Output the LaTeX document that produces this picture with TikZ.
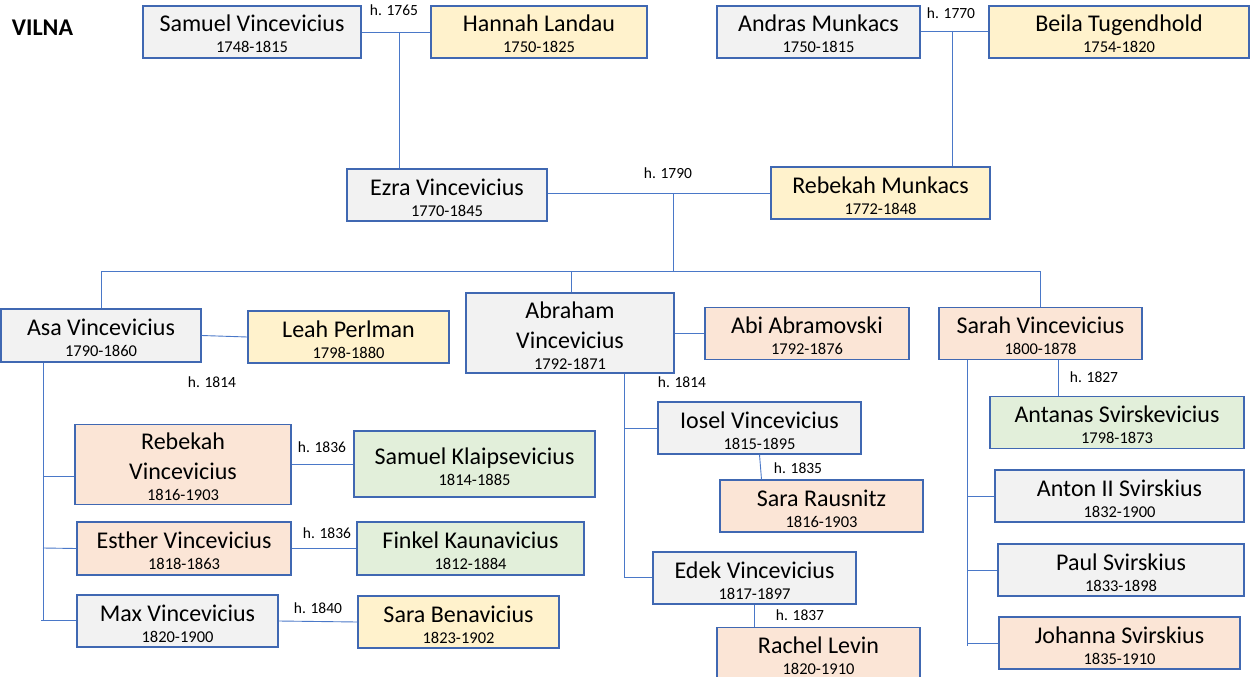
\documentclass[tikz,border=0pt]{standalone}
\usepackage{fontspec}
\setmainfont{Carlito}
\definecolor{bord}{HTML}{4068B2}
\definecolor{connc}{HTML}{4A78C8}
\definecolor{fgrey}{HTML}{F2F2F2}
\definecolor{fyel}{HTML}{FFF2CC}
\definecolor{fpeach}{HTML}{FBE5D6}
\definecolor{fgreen}{HTML}{E2EFDA}
\newcommand{\dtf}{\fontsize{16.5}{21}\selectfont}
\newcommand{\pp}[2]{\rule{0pt}{25pt}#1\\{\dtf #2\rule[-4pt]{0pt}{4pt}}}
\newcommand{\ppp}[3]{\rule{0pt}{25pt}#1\\[9pt]#2\\{\dtf #3\rule[-4pt]{0pt}{4pt}}}
\tikzset{
  person/.style={draw=bord, line width=1.3pt, inner sep=0pt, align=center,
    font=\fontsize{24}{21}\selectfont, minimum height=52pt},
  pgrey/.style={person, fill=fgrey},
  pyel/.style={person, fill=fyel},
  ppeach/.style={person, fill=fpeach},
  pgreen/.style={person, fill=fgreen},
  link/.style={draw=connc, line width=0.9pt},
  lbl/.style={font=\fontsize{15.5}{18}\selectfont, inner sep=0pt}
}
\begin{document}
\begin{tikzpicture}[x=1pt, y=-1pt]
\useasboundingbox (0,0) rectangle (1253,677);
\node[font=\fontsize{24}{28}\selectfont\bfseries, inner sep=0pt] (vilna) at (42.5,28) {VILNA};
% generation 1
\node[pgrey, minimum width=218pt] (samuel) at (252,32) {\pp{Samuel Vincevicius}{1748-1815}};
\node[pyel, minimum width=216pt] (hannah) at (539,32) {\pp{Hannah Landau}{1750-1825}};
\node[pgrey, minimum width=203pt] (andras) at (818.5,32) {\pp{Andras Munkacs}{1750-1815}};
\node[pyel, minimum width=260pt] (beila) at (1119,32) {\pp{Beila Tugendhold}{1754-1820}};
% generation 2
\node[pgrey, minimum width=200pt] (ezra) at (447,195) {\pp{Ezra Vincevicius}{1770-1845}};
\node[pyel, minimum width=219pt] (rebm) at (880.5,193) {\pp{Rebekah Munkacs}{1772-1848}};
% generation 3
\node[pgrey, minimum width=200pt, minimum height=53pt] (asa) at (101,335.5) {\pp{Asa Vincevicius}{1790-1860}};
\node[pyel, minimum width=201pt] (leah) at (348.5,337) {\pp{Leah Perlman}{1798-1880}};
\node[pgrey, minimum width=208pt, minimum height=78pt] (abraham) at (570,333) {\ppp{Abraham}{Vincevicius}{1792-1871}};
\node[ppeach, minimum width=204pt] (abi) at (807,333.5) {\pp{Abi Abramovski}{1792-1876}};
\node[ppeach, minimum width=203pt] (sarah) at (1040.5,333.5) {\pp{Sarah Vincevicius}{1800-1878}};
% generation 4 - Asa
\node[ppeach, minimum width=216pt, minimum height=75pt] (rebv) at (183,464.5) {\ppp{Rebekah}{Vincevicius}{1816-1903}};
\node[pgreen, minimum width=241pt, minimum height=66pt] (samk) at (474.5,464) {\pp{Samuel Klaipsevicius}{1814-1885}};
\node[ppeach, minimum width=214pt, minimum height=53pt] (esther) at (184,548.5) {\pp{Esther Vincevicius}{1818-1863}};
\node[pgreen, minimum width=227pt, minimum height=53pt] (finkel) at (470.5,548.5) {\pp{Finkel Kaunavicius}{1812-1884}};
\node[pgrey, minimum width=201pt] (max) at (177.5,621) {\pp{Max Vincevicius}{1820-1900}};
\node[pyel, minimum width=201pt] (sarab) at (458.5,622) {\pp{Sara Benavicius}{1823-1902}};
% generation 4 - Abraham
\node[pgrey, minimum width=203pt] (iosel) at (759.5,428) {\pp{Iosel Vincevicius}{1815-1895}};
\node[ppeach, minimum width=203pt] (sarar) at (821.5,506) {\pp{Sara Rausnitz}{1816-1903}};
\node[pgrey, minimum width=203pt] (edek) at (754.5,578) {\pp{Edek Vincevicius}{1817-1897}};
\node[ppeach, minimum width=203pt] (rachel) at (818.5,653.5) {\pp{Rachel Levin}{1820-1910}};
% generation 4 - Sarah
\node[pgreen, minimum width=254pt] (antanas) at (1117,422.5) {\pp{Antanas Svirskevicius}{1798-1873}};
\node[pgrey, minimum width=249pt] (anton) at (1119.5,496) {\pp{Anton II Svirskius}{1832-1900}};
\node[pgrey, minimum width=246pt] (paul) at (1121,570) {\pp{Paul Svirskius}{1833-1898}};
\node[ppeach, minimum width=241pt] (johanna) at (1119.5,643) {\pp{Johanna Svirskius}{1835-1910}};
% marriage labels
\node[lbl] (h1765) at (394,10) {h. 1765};
\node[lbl] (h1770) at (951,13) {h. 1770};
\node[lbl] (h1790) at (668,173) {h. 1790};
\node[lbl] (h1814a) at (212,382) {h. 1814};
\node[lbl] (h1814b) at (682,382) {h. 1814};
\node[lbl] (h1836a) at (322,447) {h. 1836};
\node[lbl] (h1836b) at (327,533) {h. 1836};
\node[lbl] (h1840) at (318,608) {h. 1840};
\node[lbl] (h1835) at (798,468) {h. 1835};
\node[lbl] (h1837) at (800,615) {h. 1837};
\node[lbl] (h1827) at (1094,377) {h. 1827};
% junction coordinates
\coordinate (m1) at (399,32);
\coordinate (m2) at (952,31);
\coordinate (m3) at (673,193);
\coordinate (bar) at (673,271);
\coordinate (barL) at (101,271);
\coordinate (barM) at (571,271);
\coordinate (barR) at (1040,271);
\coordinate (asaEnd) at (43,620);
\coordinate (abrEnd) at (624,577);
\coordinate (sarEnd) at (967,646);
% connectors gen 1
\draw[link] (samuel.east) -- (hannah.west);
\draw[link] (m1) -- (m1 |- ezra.north);
\draw[link] (andras.east |- m2) -- (beila.west |- m2);
\draw[link] (m2) -- (m2 |- rebm.north);
% gen 2
\draw[link] (ezra.east |- m3) -- (rebm.west |- m3);
\draw[link] (m3) -- (bar);
\draw[link] (barL) -- (barR);
\draw[link] (barL) -- (barL |- asa.north);
\draw[link] (barM) -- (barM |- abraham.north);
\draw[link] (barR) -- (barR |- sarah.north);
% gen 3 marriages
\draw[link] (asa.east) -- (leah.west);
\draw[link] (abraham.east |- abi.west) -- (abi.west);
\draw[link] ([xshift=18pt]sarah.south) -- ([xshift=18pt]sarah.south |- antanas.north);
% Asa children
\draw[link] (asaEnd |- asa.south) -- (asaEnd);
\draw[link] (43,476) -- (rebv.west |- 0,476);
\draw[link] (43,548) -- (esther.west);
\draw[link] ([xshift=-2pt]asaEnd) -- (max.west |- asaEnd);
\draw[link] (rebv.east |- samk.west) -- (samk.west);
\draw[link] (esther.east) -- (finkel.west);
\draw[link] (max.east) -- (sarab.west);
% Abraham children
\draw[link] (abrEnd |- abraham.south) -- (abrEnd);
\draw[link] (624,428) -- (iosel.west);
\draw[link] (abrEnd) -- (edek.west |- abrEnd);
\draw[link] (iosel.south) -- ([xshift=2pt]iosel.south |- sarar.north);
\draw[link] (edek.south) -- (edek.south |- rachel.north);
% Sarah children
\draw[link] (sarEnd |- sarah.south) -- (sarEnd);
\draw[link] (967,496) -- (anton.west);
\draw[link] (967,570) -- (paul.west);
\draw[link] (967,643) -- (johanna.west);
\end{tikzpicture}
\end{document}
